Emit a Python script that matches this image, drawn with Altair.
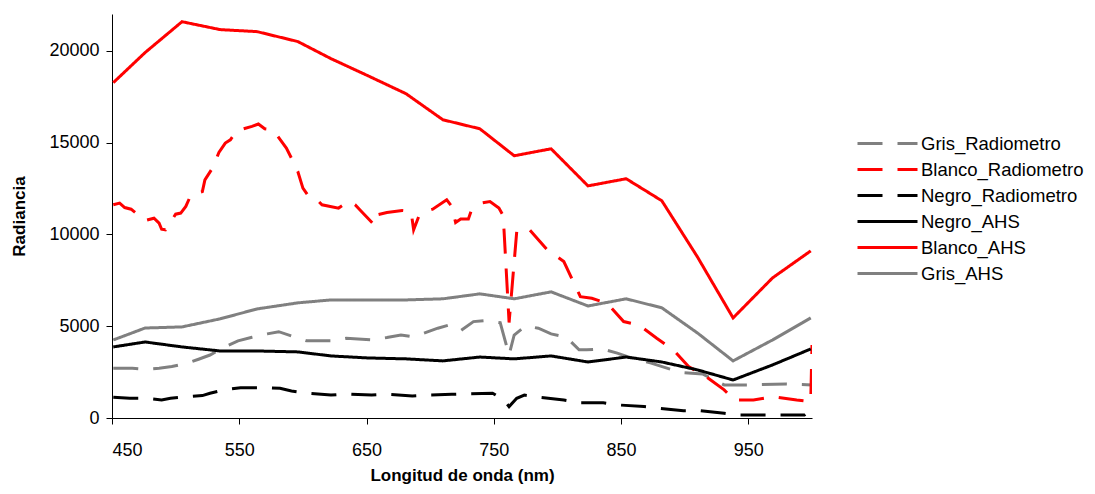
import altair as alt
import pandas as pd

# ---- data ----
series_order = ["Gris_Radiometro", "Blanco_Radiometro", "Negro_Radiometro",
                "Negro_AHS", "Blanco_AHS", "Gris_AHS"]
series_colors = ["#808080", "#FF0000", "#000000", "#000000", "#FF0000", "#808080"]

ahs_wl = [451, 476, 505, 535, 564, 596, 622, 651, 681, 710, 739, 766, 795, 824,
          854, 882, 910, 938, 969, 999]
blanco_ahs = [18260, 19900, 21580, 21150, 21040, 20500, 19570, 18640, 17660, 16240,
              15750, 14280, 14660, 12640, 13030, 11830, 8770, 5450, 7630, 9100]
gris_ahs = [4250, 4900, 4960, 5400, 5940, 6270, 6430, 6430, 6430, 6490,
            6760, 6490, 6870, 6100, 6490, 6000, 4630, 3110, 4250, 5450]
negro_ahs = [3870, 4140, 3870, 3650, 3650, 3600, 3380, 3270, 3220, 3110,
             3320, 3220, 3380, 3050, 3320, 3050, 2620, 2070, 2890, 3760]

blanco_rad_wl = [451, 456, 460, 465, 476, 483, 487, 489, 492, 500, 504, 508, 512, 521,
                 523, 529, 534, 539, 543, 548, 560, 565, 570, 576, 579, 587, 591, 596,
                 600, 604, 609, 615, 628, 636, 641, 646, 656, 658, 666, 678, 685, 687,
                 691, 696, 702, 713, 717, 720, 724, 730, 732, 740, 747, 754, 757, 758,
                 762, 768, 777, 792, 805, 813, 818, 827, 839, 852, 864, 878, 891, 903,
                 915, 931, 939, 954, 970, 988, 999, 1000]
blanco_rad = [11610, 11700, 11460, 11370, 10750, 10880, 10610, 10280, 10250, 11100,
              11160, 11520, 12150, 12330, 12970, 13610, 14460, 14970, 15150, 15640,
              15880, 16010, 15750, 15700, 15460, 14700, 14150, 13420, 12520, 12120,
              12030, 11610, 11430, 11790, 11610, 11240, 10520, 11060, 11190, 11300,
              11240, 10250, 10970, 11240, 11370, 11880, 11520, 10640, 10830, 10830,
              11240, 11700, 11790, 11430, 11060, 10250, 5200, 10150, 10340, 9160,
              8520, 7340, 6610, 6520, 6250, 5250, 5070, 4340, 3710, 2800,
              2340, 1530, 980, 980, 1160, 980, 890, 3980]

gris_rad_wl = [451, 466, 477, 487, 497, 509, 518, 527, 540, 549, 560, 572, 581, 591,
               603, 622, 634, 654, 666, 677, 686, 695, 706, 715, 724, 734, 743, 755,
               762, 766, 775, 785, 795, 807, 817, 823, 835, 847, 855, 873, 897, 914,
               931, 949, 980, 1000]
gris_rad = [2710, 2710, 2650, 2710, 2800, 2980, 3200, 3430, 3920, 4200, 4400, 4580,
            4700, 4470, 4200, 4200, 4340, 4250, 4380, 4520, 4430, 4620, 4890, 5070,
            4760, 5250, 5300, 5190, 3430, 4520, 5010, 4890, 4580, 4400, 3710, 3710,
            3760, 3530, 3340, 3000, 2470, 2400, 1800, 1800, 1850, 1800]

negro_rad_wl = [451, 464, 478, 489, 496, 509, 521, 527, 540, 551, 560, 572, 582, 591,
                603, 622, 634, 654, 666, 686, 698, 717, 729, 749, 758, 762, 768, 774,
                785, 805, 817, 836, 848, 868, 880, 899, 911, 931, 942, 962, 974, 994,
                1000]
negro_rad = [1130, 1070, 1070, 980, 1070, 1160, 1220, 1350, 1560, 1650, 1650, 1650,
             1620, 1470, 1350, 1250, 1310, 1250, 1290, 1200, 1250, 1290, 1310, 1350,
             980, 620, 1070, 1250, 1130, 980, 830, 830, 710, 620, 530, 400, 400,
             260, 160, 160, 160, 160, 500]

x_ticks = [450, 550, 650, 750, 850, 950]
y_ticks = [0, 5000, 10000, 15000, 20000]

# ---- long table ----
rows = []
for name, wl, vals in [
    ("Gris_Radiometro", gris_rad_wl, gris_rad),
    ("Blanco_Radiometro", blanco_rad_wl, blanco_rad),
    ("Negro_Radiometro", negro_rad_wl, negro_rad),
    ("Negro_AHS", ahs_wl, negro_ahs),
    ("Blanco_AHS", ahs_wl, blanco_ahs),
    ("Gris_AHS", ahs_wl, gris_ahs),
]:
    for w, v in zip(wl, vals):
        rows.append({"serie": name, "wl": w, "rad": v})
df = pd.DataFrame(rows)

FONT = "Liberation Sans"
dash = [25, 15]
solid = [1, 0]

legend = alt.Legend(
    title=None, orient="none", legendX=759, legendY=113,
    symbolType="M-2,0H2", symbolSize=900, symbolStrokeWidth=3,
    labelFontSize=18.5, labelFont=FONT, labelColor="#000000",
    labelOffset=17, rowPadding=0, labelLimit=400, padding=0,
)

chart = alt.Chart(df).mark_line(strokeWidth=3, clip=True).encode(
    x=alt.X("wl:Q",
            scale=alt.Scale(domain=[450, 1000], nice=False, zero=False),
            axis=alt.Axis(values=x_ticks, title="Longitud de onda (nm)", grid=False,
                          tickSize=6, labelPadding=17, titlePadding=8,
                          labelFontSize=18, titleFontSize=17)),
    y=alt.Y("rad:Q",
            scale=alt.Scale(domain=[0, 22000], nice=False),
            axis=alt.Axis(values=y_ticks, format="d", title="Radiancia", grid=False,
                          tickSize=6, labelPadding=7, titlePadding=20,
                          labelFontSize=18, titleFontSize=17)),
    color=alt.Color("serie:N",
                    scale=alt.Scale(domain=series_order, range=series_colors),
                    legend=legend),
    strokeDash=alt.StrokeDash("serie:N",
                              scale=alt.Scale(domain=series_order,
                                              range=[dash, dash, dash, solid, solid, solid]),
                              legend=legend),
).properties(
    width=700, height=404,
    autosize=alt.AutoSizeParams(type="none"),
    padding={"left": 104, "top": 6, "right": 275, "bottom": 68},
).configure_view(stroke=None).configure_axis(
    labelFont=FONT, titleFont=FONT, labelColor="#000000", titleColor="#000000",
    domainColor="#000000", tickColor="#000000", titleFontWeight="bold",
)

chart.save("out.html", embed_options={"renderer": "svg", "actions": False})
